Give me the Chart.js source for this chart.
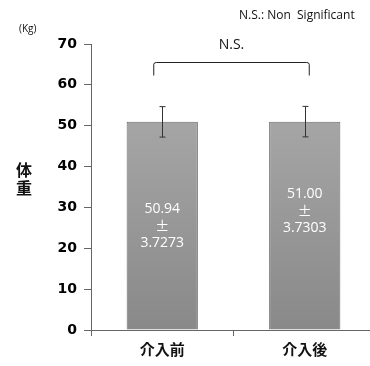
<!DOCTYPE html>
<html>
<head>
<meta charset="utf-8">
<script src="https://cdn.jsdelivr.net/npm/chart.js@4/dist/chart.umd.min.js"></script>
<style>
  html, body { margin: 0; padding: 0; background: #fff; overflow: hidden; }
  #wrap { width: 376px; height: 366px; }
</style>
</head>
<body>
<div id="wrap"><canvas id="chart1"></canvas></div>
<script>
// datos
const categorias = ['介入前', '介入後'];
const medias = [50.94, 51.00];
const desv = [3.7273, 3.7303];
const etiquetas = ['50.94', '51.00'];
const etiquetasDE = ['3.7273', '3.7303'];
const ticksY = [0, 10, 20, 30, 40, 50, 60, 70];

const FONT = '"Open Sans", "Liberation Sans", sans-serif';
const CJK = '"Noto Sans CJK JP", sans-serif';

// barras de error, llave N.S. y textos
const extras = {
    id: 'extras',
    afterDatasetsDraw(chart) {
        const c = chart.ctx;
        const y = chart.scales.y;
        const meta = chart.getDatasetMeta(0);
        const textoY = [226, 211]; // centro del texto dentro de cada barra
        c.save();
        c.strokeStyle = '#333';
        c.lineWidth = 1;
        meta.data.forEach((bar, i) => {
            const cx = Math.round(bar.x) + 0.5;
            const yt = y.getPixelForValue(medias[i] + desv[i]);
            const yb = y.getPixelForValue(medias[i] - desv[i]);
            c.beginPath();
            c.moveTo(cx, yt); c.lineTo(cx, yb);
            c.moveTo(cx - 3, yt); c.lineTo(cx + 3, yt);
            c.moveTo(cx - 3, yb); c.lineTo(cx + 3, yb);
            c.stroke();
            // texto dentro de la barra
            c.fillStyle = '#fff';
            c.textAlign = 'center';
            c.textBaseline = 'middle';
            const base = textoY[i];
            c.font = '14px ' + FONT;
            c.fillText(etiquetas[i], bar.x, base - 17);
            c.font = '14px ' + CJK;
            c.fillText('±', bar.x, base);
            c.font = '14px ' + FONT;
            c.fillText(etiquetasDE[i], bar.x, base + 17);
        });
        // llave
        const x1 = meta.data[0].x - 9, x2 = meta.data[1].x + 5;
        const by = 62.5;
        c.strokeStyle = '#222';
        c.beginPath();
        c.moveTo(x1 + 0.5, by + 13); c.lineTo(x1 + 0.5, by + 2);
        c.quadraticCurveTo(x1 + 0.5, by, x1 + 3, by);
        c.lineTo(x2 - 3, by);
        c.quadraticCurveTo(x2 - 0.5, by, x2 - 0.5, by + 2);
        c.lineTo(x2 - 0.5, by + 13);
        c.stroke();
        c.fillStyle = '#111';
        c.textAlign = 'center';
        c.textBaseline = 'middle';
        c.font = '14px ' + FONT;
        c.fillText('N.S.', (x1 + x2) / 2, 45);
        // notas
        c.font = '12px ' + FONT;
        c.textAlign = 'left';
        c.fillText('N.S.: Non  Significant', 239, 16);
        c.font = '10px ' + FONT;
        c.fillText('(Kg)', 19, 29);
        // título eje y
        c.font = 'bold 16px ' + CJK;
        c.textAlign = 'center';
        c.fillText('体', 24, 170);
        c.fillText('重', 24, 188);
        c.restore();
    }
};

const ctx1 = document.getElementById('chart1').getContext('2d');
new Chart(ctx1, {
    type: 'bar',
    data: {
        labels: categorias,
        datasets: [{
            data: medias,
            backgroundColor: (context) => {
                const area = context.chart.chartArea;
                if (!area) return '#999';
                const g = context.chart.ctx.createLinearGradient(0, area.top, 0, area.bottom);
                g.addColorStop(0, '#b0b0b0');
                g.addColorStop(1, '#898989');
                return g;
            },
            borderColor: '#6a6a6a',
            borderWidth: 1,
            barPercentage: 0.5,
            categoryPercentage: 1
        }]
    },
    plugins: [extras],
    options: {
        responsive: true,
        maintainAspectRatio: false,
        animation: false,
        layout: { padding: { top: 44, left: 0, right: 0, bottom: 0 } },
        plugins: {
            legend: { display: false },
            tooltip: { enabled: false }
        },
        scales: {
            x: {
                afterFit: (s) => { s.height = 36; },
                grid: {
                    offset: true,
                    drawOnChartArea: false,
                    tickLength: 6,
                    color: '#666'
                },
                border: { color: '#666', width: 1 },
                ticks: {
                    color: '#111',
                    padding: 4,
                    font: { family: CJK, size: 15, weight: 'bold' }
                }
            },
            y: {
                min: 0,
                max: 70,
                afterFit: (s) => { s.width = 91; },
                afterBuildTicks: (s) => { s.ticks = ticksY.map(v => ({ value: v })); },
                grid: {
                    drawOnChartArea: false,
                    tickLength: 7,
                    color: '#666'
                },
                border: { color: '#666', width: 1 },
                ticks: {
                    color: '#000',
                    padding: 7,
                    font: { family: '"DejaVu Sans", sans-serif', size: 14, weight: 'bold' }
                }
            }
        }
    }
});
</script>
</body>
</html>
